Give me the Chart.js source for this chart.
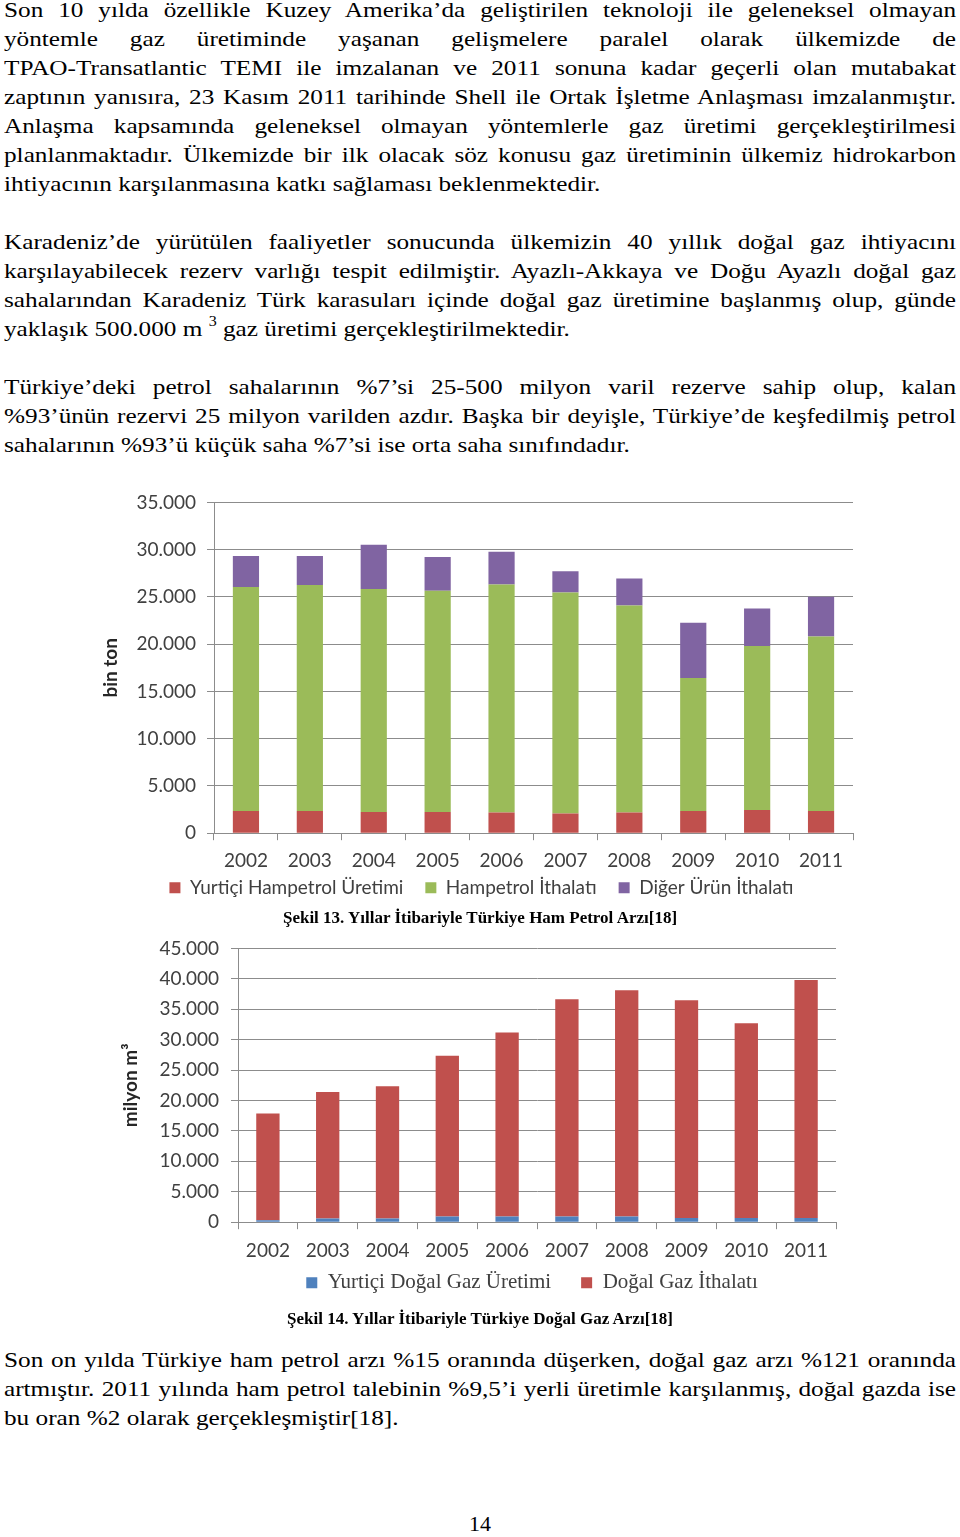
<!DOCTYPE html>
<html lang="tr">
<head>
<meta charset="utf-8">
<script src="https://cdn.jsdelivr.net/npm/chart.js@4.4.1/dist/chart.umd.min.js"></script>
<style>
    body {
        margin: 0;
        width: 960px;
        height: 1537px;
        position: relative;
        background: #fff;
        overflow: hidden;
    }
    /* the scanned page is stretched sideways, so the text is widened */
    .txt {
        position: absolute;
        left: 4px;
        width: 830px;
        transform: scaleX(1.147);
        transform-origin: 0 0;
        font-family: 'Liberation Serif', 'Times New Roman', serif;
        font-size: 22px;
        line-height: 29px;
        color: #000;
    }
    .txt div {
        text-align: justify;
        text-align-last: justify;
        white-space: nowrap;
    }
    .txt div.last {
        text-align-last: left;
    }
    .txt sup {
        font-size: 14px;
        line-height: 0;
        position: relative;
        top: -2px;
    }
    .chart {
        position: absolute;
    }
    .caption {
        position: absolute;
        left: 0;
        width: 960px;
        text-align: center;
        font-family: 'Liberation Serif', 'Times New Roman', serif;
        font-weight: bold;
        font-size: 17px;
    }
    .pageno {
        position: absolute;
        left: 0;
        width: 960px;
        top: 1511px;
        text-align: center;
        font-family: 'Liberation Serif', 'Times New Roman', serif;
        font-size: 22px;
    }
</style>
</head>
<body>

<div class="txt" style="top:-5px">
    <div>Son 10 yılda özellikle Kuzey Amerika’da geliştirilen teknoloji ile geleneksel olmayan</div>
    <div>yöntemle gaz üretiminde yaşanan gelişmelere paralel olarak ülkemizde de</div>
    <div>TPAO-Transatlantic TEMI ile imzalanan ve 2011 sonuna kadar geçerli olan mutabakat</div>
    <div>zaptının yanısıra, 23 Kasım 2011 tarihinde Shell ile Ortak İşletme Anlaşması imzalanmıştır.</div>
    <div>Anlaşma kapsamında geleneksel olmayan yöntemlerle gaz üretimi gerçekleştirilmesi</div>
    <div>planlanmaktadır. Ülkemizde bir ilk olacak söz konusu gaz üretiminin ülkemiz hidrokarbon</div>
    <div class="last">ihtiyacının karşılanmasına katkı sağlaması beklenmektedir.</div>
</div>

<div class="txt" style="top:227px">
    <div>Karadeniz’de yürütülen faaliyetler sonucunda ülkemizin 40 yıllık doğal gaz ihtiyacını</div>
    <div>karşılayabilecek rezerv varlığı tespit edilmiştir. Ayazlı-Akkaya ve Doğu Ayazlı doğal gaz</div>
    <div>sahalarından Karadeniz Türk karasuları içinde doğal gaz üretimine başlanmış olup, günde</div>
    <div class="last">yaklaşık 500.000 m <sup>3</sup> gaz üretimi gerçekleştirilmektedir.</div>
</div>

<div class="txt" style="top:372px">
    <div>Türkiye’deki petrol sahalarının %7’si 25-500 milyon varil rezerve sahip olup, kalan</div>
    <div>%93’ünün rezervi 25 milyon varilden azdır. Başka bir deyişle, Türkiye’de keşfedilmiş petrol</div>
    <div class="last">sahalarının %93’ü küçük saha %7’si ise orta saha sınıfındadır.</div>
</div>

<div class="chart" style="left:90px; top:480px; width:783px; height:452px;">
    <canvas id="petrolChart"></canvas>
</div>
<div class="caption" style="top:908px">Şekil 13. Yıllar İtibariyle Türkiye Ham Petrol Arzı[18]</div>

<div class="chart" style="left:110px; top:925px; width:836px; height:408px;">
    <canvas id="gasChart"></canvas>
</div>
<div class="caption" style="top:1309px">Şekil 14. Yıllar İtibariyle Türkiye Doğal Gaz Arzı[18]</div>

<div class="txt" style="top:1345px">
    <div>Son on yılda Türkiye ham petrol arzı %15 oranında düşerken, doğal gaz arzı %121 oranında</div>
    <div>artmıştır. 2011 yılında ham petrol talebinin %9,5’i yerli üretimle karşılanmış, doğal gazda ise</div>
    <div class="last">bu oran %2 olarak gerçekleşmiştir[18].</div>
</div>

<div class="pageno">14</div>

<script>
// Years on the x axis (both charts)
const years = ['2002', '2003', '2004', '2005', '2006', '2007', '2008', '2009', '2010', '2011'];

// Şekil 13 - ham petrol arzı (bin ton)
const yurticiHampetrol = [2350, 2350, 2250, 2250, 2180, 2080, 2180, 2360, 2460, 2360];
const hampetrolIthalat = [23710, 23920, 23600, 23390, 24130, 23390, 21910, 14070, 17340, 18460];
const digerUrunIthalat = [3270, 3060, 4670, 3580, 3480, 2250, 2850, 5840, 3980, 4190];

// Şekil 14 - doğal gaz arzı (milyon m3)
const yurticiDogalGaz = [300, 600, 600, 930, 930, 930, 930, 710, 710, 710];
const dogalGazIthalat = [17580, 20780, 21760, 26410, 30230, 35700, 37180, 35760, 31990, 39090];

// Axis ranges
const petrolMax = 35000;
const gasMax = 45000;
const tickStep = 5000;

const gridColor = '#8c8c8c';
const tickColor = '#404040';
const sansFont = "Lato, 'Open Sans', sans-serif";
const serifFont = "'Liberation Serif', 'Times New Roman', serif";

function formatTr(v) {
    return String(v).replace(/\B(?=(\d{3})+(?!\d))/g, '.');
}

// Moves the legend right under the year labels, like the Excel original
const legendShift = {
    id: 'legendShift',
    afterLayout: function(chart, args, opts) {
        const lg = chart.legend;
        lg.left += opts.dx;
        lg.right += opts.dx;
        lg.top = chart.chartArea.bottom + opts.gap;
        lg.bottom = lg.top + lg.height;
    }
};

function buildOptions(cfg) {
    return {
        responsive: true,
        maintainAspectRatio: false,
        animation: false,
        layout: {
            padding: { top: 0, right: cfg.padRight, bottom: 0, left: 0 }
        },
        plugins: {
            legend: {
                position: 'bottom',
                labels: {
                    boxWidth: 11,
                    boxHeight: 11,
                    padding: cfg.legendPad,
                    color: tickColor,
                    font: cfg.legendFont
                }
            },
            legendShift: { dx: cfg.legendDx, gap: cfg.legendGap },
            tooltip: { enabled: false }
        },
        scales: {
            x: {
                stacked: true,
                grid: {
                    display: true,
                    drawOnChartArea: false,
                    drawTicks: true,
                    tickLength: 7,
                    color: gridColor
                },
                border: { display: true, color: gridColor },
                ticks: {
                    color: tickColor,
                    padding: cfg.xTickPad,
                    font: { family: sansFont, size: 19 }
                }
            },
            y: {
                stacked: true,
                min: 0,
                max: cfg.max,
                grid: {
                    color: gridColor,
                    tickLength: 7
                },
                border: { display: true, color: gridColor },
                ticks: {
                    stepSize: tickStep,
                    color: tickColor,
                    padding: cfg.yTickPad,
                    font: { family: sansFont, size: 19 },
                    callback: function(value) {
                        return formatTr(value);
                    }
                },
                title: {
                    display: true,
                    text: cfg.title,
                    color: '#262626',
                    padding: { top: 9, bottom: 0 },
                    font: { family: sansFont, size: 19, weight: 'bold' }
                },
                afterFit: function(scale) {
                    scale.width = cfg.yWidth;
                }
            }
        }
    };
}

document.addEventListener('DOMContentLoaded', function() {
    // Ham petrol chart
    const petrolCtx = document.getElementById('petrolChart').getContext('2d');
    new Chart(petrolCtx, {
        type: 'bar',
        data: {
            labels: years,
            datasets: [{
                label: 'Yurtiçi Hampetrol Üretimi',
                data: yurticiHampetrol,
                backgroundColor: '#C0504D',
                barPercentage: 0.41,
                categoryPercentage: 1
            }, {
                label: 'Hampetrol İthalatı',
                data: hampetrolIthalat,
                backgroundColor: '#9BBB59',
                barPercentage: 0.41,
                categoryPercentage: 1
            }, {
                label: 'Diğer Ürün İthalatı',
                data: digerUrunIthalat,
                backgroundColor: '#8064A2',
                barPercentage: 0.41,
                categoryPercentage: 1
            }]
        },
        options: buildOptions({
            max: petrolMax, title: 'bin ton', yWidth: 124,
            xTickPad: 9, yTickPad: 11, padRight: 20, legendPad: 22,
            legendDx: 10, legendGap: 23,
            legendFont: { family: sansFont, size: 19 }
        }),
        plugins: [legendShift]
    });

    // Doğal gaz chart
    const gasCtx = document.getElementById('gasChart').getContext('2d');
    new Chart(gasCtx, {
        type: 'bar',
        data: {
            labels: years,
            datasets: [{
                label: 'Yurtiçi Doğal Gaz Üretimi',
                data: yurticiDogalGaz,
                backgroundColor: '#4F81BD',
                barPercentage: 0.39,
                categoryPercentage: 1
            }, {
                label: 'Doğal Gaz İthalatı',
                data: dogalGazIthalat,
                backgroundColor: '#C0504D',
                barPercentage: 0.39,
                categoryPercentage: 1
            }]
        },
        options: buildOptions({
            max: gasMax, title: 'milyon m³', yWidth: 128,
            xTickPad: 10, yTickPad: 12, padRight: 110, legendPad: 30,
            legendDx: 59, legendGap: 20,
            legendFont: { family: serifFont, size: 21 }
        }),
        plugins: [legendShift]
    });
});
</script>
</body>
</html>
